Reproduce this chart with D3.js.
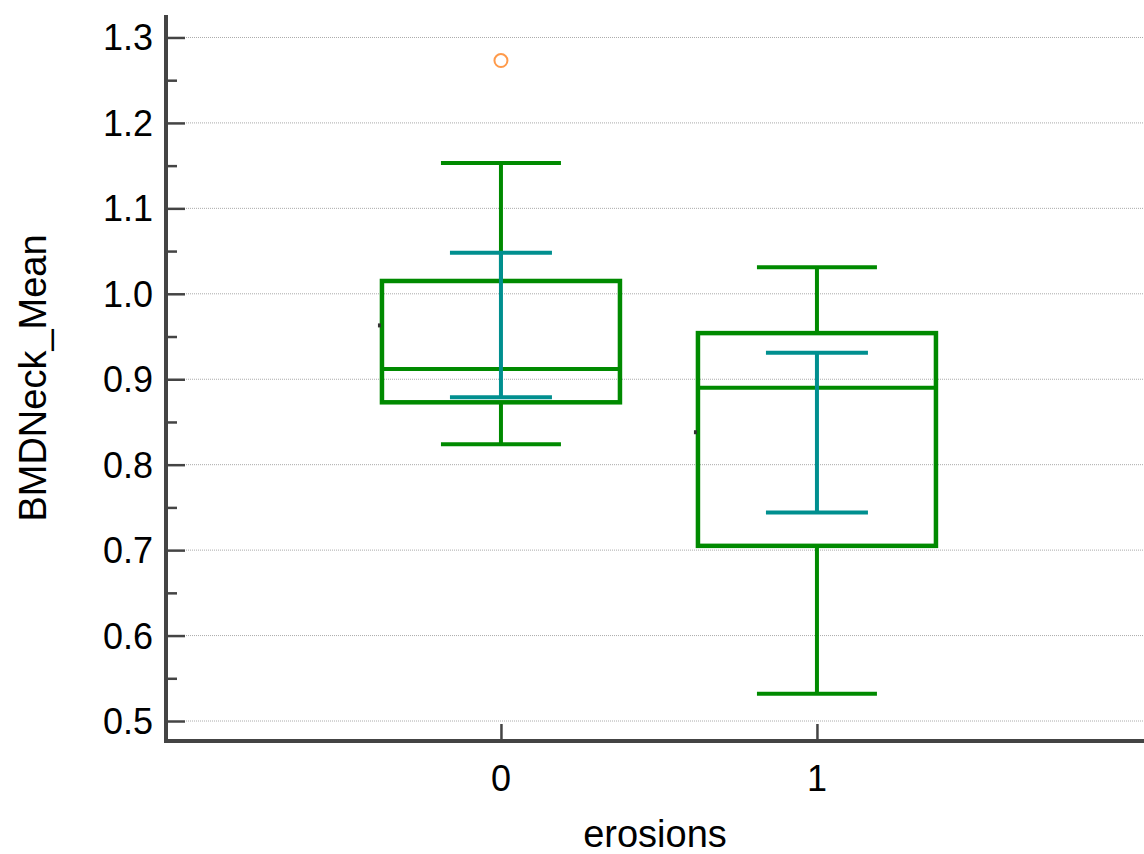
<!DOCTYPE html>
<html>
<head>
<meta charset="utf-8">
<script src="https://cdn.jsdelivr.net/npm/d3@7/dist/d3.min.js"></script>
<style>
html,body{margin:0;padding:0;background:#fff;}
svg{display:block;font-family:"Liberation Sans",Arial,sans-serif;}
</style>
</head>
<body>
<svg id="chart" width="1144" height="854"></svg>
<script>
// ---- data ----
const categories = ["0", "1"];
const whiskerLow  = [0.824, 0.532];
const q1          = [0.873, 0.705];
const medians     = [0.912, 0.890];
const q3          = [1.015, 0.954];
const whiskerHigh = [1.153, 1.031];
const means       = [0.963, 0.838];
const sdLow       = [0.879, 0.744];
const sdHigh      = [1.048, 0.931];
const outliers    = [[1.273], []];
const yTicks = [0.5, 0.6, 0.7, 0.8, 0.9, 1.0, 1.1, 1.2, 1.3];
const yMinorTicks = [0.55, 0.65, 0.75, 0.85, 0.95, 1.05, 1.15, 1.25];
const xTitle = "erosions";
const yTitle = "BMDNeck_Mean";

// ---- layout ----
const svg = d3.select("#chart");
const pL = 166, pR = 1144, pT = 15, pB = 741;
const x = d3.scaleLinear().domain([-1.06, 2.035]).range([pL, pR]);
const y = d3.scaleLinear().domain([0.4766, 1.3263]).range([pB, pT]);

const green = "#008a00", teal = "#008f8f", axisCol = "#444";

// grid
svg.append("g").selectAll("line").data(yTicks).join("line")
  .attr("x1", pL + 20).attr("x2", pR)
  .attr("y1", d => y(d)).attr("y2", d => y(d))
  .attr("stroke", "#aaa").attr("stroke-width", 1).attr("stroke-dasharray", "1,1");

const groups = svg.append("g").selectAll("g").data(categories).join("g");
const bw = 119, capW = 60, sdW = 51;
const sw = 4.5;

// boxes
groups.append("rect")
  .attr("x", (d, i) => x(i) - bw).attr("width", 2 * bw)
  .attr("y", (d, i) => y(q3[i])).attr("height", (d, i) => y(q1[i]) - y(q3[i]))
  .attr("fill", "none").attr("stroke", green).attr("stroke-width", sw);
// medians
groups.append("line")
  .attr("x1", (d, i) => x(i) - bw).attr("x2", (d, i) => x(i) + bw)
  .attr("y1", (d, i) => y(medians[i])).attr("y2", (d, i) => y(medians[i]))
  .attr("stroke", green).attr("stroke-width", 4);
// whiskers
groups.append("line")
  .attr("x1", (d, i) => x(i)).attr("x2", (d, i) => x(i))
  .attr("y1", (d, i) => y(whiskerHigh[i])).attr("y2", (d, i) => y(q3[i]))
  .attr("stroke", green).attr("stroke-width", 4);
groups.append("line")
  .attr("x1", (d, i) => x(i)).attr("x2", (d, i) => x(i))
  .attr("y1", (d, i) => y(q1[i])).attr("y2", (d, i) => y(whiskerLow[i]))
  .attr("stroke", green).attr("stroke-width", 4);
[whiskerHigh, whiskerLow].forEach(arr => {
  groups.append("line")
    .attr("x1", (d, i) => x(i) - capW).attr("x2", (d, i) => x(i) + capW)
    .attr("y1", (d, i) => y(arr[i])).attr("y2", (d, i) => y(arr[i]))
    .attr("stroke", green).attr("stroke-width", 4);
});
// mean +- SD (teal)
groups.append("line")
  .attr("x1", (d, i) => x(i)).attr("x2", (d, i) => x(i))
  .attr("y1", (d, i) => y(sdHigh[i])).attr("y2", (d, i) => y(sdLow[i]))
  .attr("stroke", teal).attr("stroke-width", 4);
[sdHigh, sdLow].forEach(arr => {
  groups.append("line")
    .attr("x1", (d, i) => x(i) - sdW).attr("x2", (d, i) => x(i) + sdW)
    .attr("y1", (d, i) => y(arr[i])).attr("y2", (d, i) => y(arr[i]))
    .attr("stroke", teal).attr("stroke-width", 4);
});
// mean markers (small dark tick at box left)
groups.append("rect")
  .attr("x", (d, i) => x(i) - bw - 4).attr("width", 3)
  .attr("y", (d, i) => y(means[i]) - 2).attr("height", 4)
  .attr("fill", "#333");
// outliers
groups.each(function(d, i) {
  d3.select(this).selectAll("circle").data(outliers[i]).join("circle")
    .attr("cx", x(i)).attr("cy", v => y(v)).attr("r", 6.5)
    .attr("fill", "none").attr("stroke", "#ff9a4a").attr("stroke-width", 2);
});

// axes
const yAxis = svg.append("g").attr("transform", `translate(${pL},0)`)
  .call(d3.axisRight(y).tickValues(yTicks).tickSize(19).tickFormat(""));
yAxis.select(".domain").remove();
yAxis.selectAll("line").attr("stroke", axisCol).attr("stroke-width", 2.5);
const yMinor = svg.append("g").attr("transform", `translate(${pL},0)`)
  .call(d3.axisRight(y).tickValues(yMinorTicks).tickSize(11).tickFormat(""));
yMinor.select(".domain").remove();
yMinor.selectAll("line").attr("stroke", axisCol).attr("stroke-width", 2.5);

svg.append("g").selectAll("text").data(yTicks).join("text")
  .attr("x", 153).attr("y", d => y(d)).attr("dy", "0.36em")
  .attr("text-anchor", "end").attr("font-size", 36).attr("fill", "#000")
  .text(d => d.toFixed(1));

const xAxis = svg.append("g").attr("transform", `translate(0,${pB})`)
  .call(d3.axisTop(x).tickValues([0, 1]).tickSize(17).tickFormat(""));
xAxis.select(".domain").remove();
xAxis.selectAll("line").attr("stroke", axisCol).attr("stroke-width", 2.5);
svg.append("g").selectAll("text").data(categories).join("text")
  .attr("x", (d, i) => x(i)).attr("y", 791)
  .attr("text-anchor", "middle").attr("font-size", 36).attr("fill", "#000")
  .text(d => d);

// axis lines
svg.append("line").attr("x1", pL).attr("x2", pL).attr("y1", pT).attr("y2", pB + 2)
  .attr("stroke", axisCol).attr("stroke-width", 4);
svg.append("line").attr("x1", pL - 2).attr("x2", pR).attr("y1", pB).attr("y2", pB)
  .attr("stroke", axisCol).attr("stroke-width", 4);

// titles
svg.append("text").attr("x", (pL + pR) / 2).attr("y", 847)
  .attr("text-anchor", "middle").attr("font-size", 38).attr("fill", "#000").text(xTitle);
svg.append("text").attr("transform", `translate(46,${(pT + pB) / 2}) rotate(-90)`)
  .attr("text-anchor", "middle").attr("font-size", 38).attr("fill", "#000").text(yTitle);
</script>
</body>
</html>
